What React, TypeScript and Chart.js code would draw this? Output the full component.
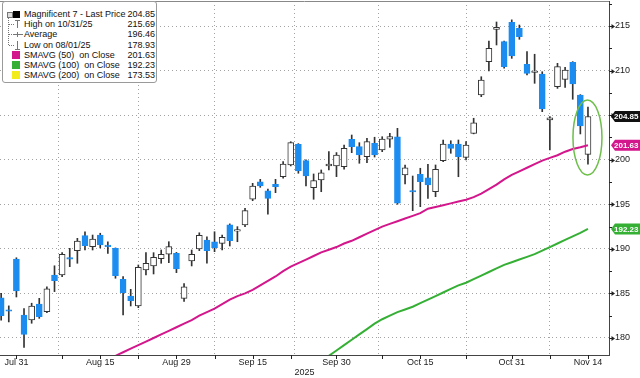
import React, { useEffect, useRef } from 'react';
import { Chart, registerables } from 'chart.js';

Chart.register(...registerables);

// ---------- data ----------
const dates = [
  'Jul 29', 'Jul 30', 'Jul 31', 'Aug 1',
  'Aug 4', 'Aug 5', 'Aug 6', 'Aug 7', 'Aug 8',
  'Aug 11', 'Aug 12', 'Aug 13', 'Aug 14', 'Aug 15',
  'Aug 18', 'Aug 19', 'Aug 20', 'Aug 21', 'Aug 22',
  'Aug 25', 'Aug 26', 'Aug 27', 'Aug 28', 'Aug 29',
  'Sep 2', 'Sep 3', 'Sep 4', 'Sep 5',
  'Sep 8', 'Sep 9', 'Sep 10', 'Sep 11', 'Sep 12',
  'Sep 15', 'Sep 16', 'Sep 17', 'Sep 18', 'Sep 19',
  'Sep 22', 'Sep 23', 'Sep 24', 'Sep 25', 'Sep 26',
  'Sep 29', 'Sep 30', 'Oct 1', 'Oct 2', 'Oct 3',
  'Oct 6', 'Oct 7', 'Oct 8', 'Oct 9', 'Oct 10',
  'Oct 13', 'Oct 14', 'Oct 15', 'Oct 16', 'Oct 17',
  'Oct 20', 'Oct 21', 'Oct 22', 'Oct 23', 'Oct 24',
  'Oct 27', 'Oct 28', 'Oct 29', 'Oct 30', 'Oct 31',
  'Nov 3', 'Nov 4', 'Nov 5', 'Nov 6', 'Nov 7',
  'Nov 10', 'Nov 11', 'Nov 12', 'Nov 13', 'Nov 14',
];

const open = [
  184.5, 183.1, 188.86, 182.58,
  182.02, 183.81, 182.95, 187.07, 187.07,
  189.0, 189.79, 191.48, 190.24, 191.55,
  190.4, 190.06, 186.59, 184.71, 183.59,
  187.63, 188.08, 188.9, 189.39, 189.5,
  184.45, 188.64, 189.98, 190.99,
  190.8, 190.62, 192.68, 191.98, 192.68,
  195.56, 197.53, 196.52, 197.24, 198.09,
  199.41, 201.73, 199.89, 196.86, 197.72,
  199.3, 199.3, 199.22, 202.29, 201.46,
  200.34, 201.84, 201.09, 202.29, 202.58,
  198.29, 196.45, 198.36, 197.98, 196.41,
  199.89, 201.76, 201.76, 200.27, 202.96,
  207.26, 211.0, 214.62, 213.24, 215.42,
  214.74, 210.7, 209.78, 209.62, 204.46,
  208.19, 209.02, 210.93, 207.26, 200.6,
];
const high = [
  185.0, 183.6, 189.0, 183.3,
  183.9, 184.45, 185.75, 188.1, 189.57,
  190.06, 191.18, 191.92, 191.55, 191.75,
  190.8, 190.1, 186.9, 185.46, 188.19,
  189.57, 189.57, 189.87, 190.8, 189.6,
  186.1, 189.87, 191.8, 191.36,
  191.92, 191.55, 192.8, 192.49, 194.55,
  197.35, 197.8, 196.7, 197.8, 199.78,
  202.02, 201.8, 200.0, 198.4, 198.85,
  200.9, 200.8, 201.65, 202.77, 201.91,
  202.4, 202.52, 202.58, 202.96, 203.52,
  199.41, 198.17, 199.04, 199.49, 199.41,
  202.21, 202.13, 202.21, 202.02, 204.65,
  209.31, 213.32, 215.45, 213.3, 215.69,
  215.11, 212.12, 211.83, 209.87, 204.83,
  210.81, 210.37, 211.0, 207.3, 205.9,
];
const low = [
  182.0, 181.8, 184.6, 178.93,
  181.65, 182.2, 182.85, 185.2, 186.88,
  188.0, 188.38, 189.87, 189.87, 190.1,
  189.5, 186.7, 182.6, 183.59, 183.4,
  187.07, 187.18, 188.38, 188.45, 187.33,
  184.1, 188.08, 189.8, 188.38,
  189.68, 189.87, 190.32, 190.8, 192.5,
  195.4, 196.9, 193.9, 196.3, 197.92,
  199.3, 198.48, 197.05, 195.56, 196.41,
  198.85, 198.1, 198.93, 200.79, 199.6,
  199.67, 200.3, 200.9, 201.39, 195.0,
  197.28, 194.28, 194.73, 195.67, 195.85,
  199.78, 200.72, 198.09, 199.97, 202.9,
  207.07, 209.95, 212.87, 210.26, 211.37,
  213.51, 209.5, 208.57, 205.39, 201.09,
  208.0, 208.12, 206.78, 202.89, 199.5,
];
const close = [
  182.5, 183.0, 185.27, 180.4,
  183.59, 182.39, 185.5, 186.43, 189.39,
  188.85, 190.88, 190.35, 191.1, 190.43,
  190.25, 186.99, 185.08, 184.18, 187.93,
  188.38, 189.05, 189.39, 190.24, 187.74,
  185.75, 189.39, 191.52, 189.79,
  190.13, 191.3, 190.92, 192.06, 194.28,
  197.05, 197.05, 195.67, 196.97, 199.52,
  201.91, 198.73, 198.17, 197.65, 198.54,
  199.52, 200.53, 201.28, 201.46, 200.53,
  202.02, 200.53, 202.32, 202.6, 195.11,
  199.1, 196.38, 197.53, 197.16, 198.93,
  201.76, 201.28, 200.34, 201.65, 204.15,
  208.94, 212.5, 214.85, 210.44, 211.64,
  213.8, 209.69, 209.84, 205.69, 204.71,
  210.44, 210.06, 208.49, 203.78, 204.85,
];

const sma50 = [
  171.7, 172.1,
  172.5, 173.0, 173.4, 173.8, 174.3, 174.7, 175.1, 175.5, 176.0, 176.4,
  176.8, 177.2, 177.6, 178.0, 178.4, 178.8, 179.2, 179.6, 180.0, 180.4,
  180.8, 181.2, 181.6, 182.0, 182.5, 182.9, 183.3, 183.8, 184.3, 184.7,
  185.0, 185.4, 185.9, 186.4, 186.9, 187.5, 188.0, 188.4, 188.8, 189.2,
  189.6, 189.9, 190.2, 190.6, 190.9, 191.3, 191.7, 192.1, 192.5, 192.8,
  193.1, 193.4, 193.7, 194.0, 194.5, 194.7, 194.9, 195.1, 195.3, 195.5,
  195.8, 196.2, 196.7, 197.2, 197.8, 198.3, 198.7, 199.1, 199.5, 199.9,
  200.2, 200.5, 200.9, 201.2, 201.4, 201.63,
];
const sma100 = [
  null, null, null, null, null, null, null, null, null, null,
  null, null, null, null, null, null, null, null, null, null,
  null, null, null, null, null, null, null, null, null, null,
  null, null, null, null, null, null, null, null, null, null,
  176.4, 177.0, 177.5, 178.0, 178.6, 179.2, 179.8, 180.4, 181.0, 181.6,
  182.1, 182.5, 182.9, 183.2, 183.5, 183.9, 184.3, 184.7, 185.1, 185.5,
  185.9, 186.2, 186.6, 187.0, 187.4, 187.8, 188.2, 188.5, 188.8, 189.1,
  189.4, 189.8, 190.2, 190.6, 191.0, 191.4, 191.8, 192.23,
];

const yTickValues = [180, 185, 190, 195, 200, 205, 210, 215];
const yMinorValues = [182.5, 187.5, 192.5, 197.5, 202.5, 207.5, 212.5, 217.5];
const xTickDates = ['Jul 31', 'Aug 15', 'Aug 29', 'Sep 15', 'Sep 30', 'Oct 15', 'Oct 31', 'Nov 14'];
const xMinorDates = ['Aug 8', 'Aug 22', 'Sep 8', 'Sep 22', 'Oct 8', 'Oct 23', 'Nov 7'];
const axisYear = '2025';

const legendLabels = [
  'Magnificent 7 - Last Price',
  'High on 10/31/25',
  'Average',
  'Low on 08/01/25',
  'SMAVG (50)  on Close',
  'SMAVG (100)  on Close',
  'SMAVG (200)  on Close',
];
const legendValues = [204.85, 215.69, 196.46, 178.93, 201.63, 192.23, 173.53];

const tagValues = [204.85, 201.63, 192.23];

// ---------- style ----------
const FONT = '"Liberation Sans", Arial, sans-serif';
const BLUE = '#1c8cf0';
const MAGENTA = '#d4168c';
const GREEN = '#35b035';
const YELLOW = '#f2ec1c';
const GRID = '#a3a3a3';
const tagColors = ['#111111', MAGENTA, GREEN];

const X_MIN = -0.152;
const X_MAX = 79.76;
const Y_MIN = 178.09;
const Y_MAX = 217.805;

const decorPlugin = {
  id: 'decor',
  afterDraw(chart: any) {
    const { ctx, chartArea: a, scales } = chart;
    const xs = scales.x;
    const ys = scales.y;
    ctx.save();
    // top frame
    ctx.strokeStyle = '#888';
    ctx.lineWidth = 1;
    ctx.beginPath();
    ctx.moveTo(a.left, a.top + 0.5);
    ctx.lineTo(a.right, a.top + 0.5);
    ctx.stroke();

    // y tick markers
    ctx.strokeStyle = '#222';
    ctx.fillStyle = '#222';
    yTickValues.forEach((v) => {
      const py = Math.round(ys.getPixelForValue(v)) + 0.5;
      ctx.beginPath();
      ctx.moveTo(a.right, py);
      ctx.lineTo(a.right + 3, py);
      ctx.stroke();
      ctx.beginPath();
      ctx.moveTo(a.right + 2.5, py - 2.5);
      ctx.lineTo(a.right + 6, py);
      ctx.lineTo(a.right + 2.5, py + 2.5);
      ctx.closePath();
      ctx.fill();
    });
    yMinorValues.forEach((v) => {
      const py = Math.round(ys.getPixelForValue(v)) + 0.5;
      if (py < a.top + 1) return;
      ctx.beginPath();
      ctx.moveTo(a.right, py);
      ctx.lineTo(a.right + 3, py);
      ctx.stroke();
    });
    // x tick marks
    [...xTickDates, ...xMinorDates].forEach((d) => {
      const px = Math.round(xs.getPixelForValue(dates.indexOf(d))) + 0.5;
      ctx.beginPath();
      ctx.moveTo(px, a.bottom);
      ctx.lineTo(px, a.bottom + 4);
      ctx.stroke();
    });

    // highlight ellipse around last candle
    const last = dates.length - 1;
    const cx = xs.getPixelForValue(last) - 0.5;
    const cy = ys.getPixelForValue(202.5);
    ctx.strokeStyle = '#6dbf4a';
    ctx.lineWidth = 1.5;
    ctx.beginPath();
    ctx.ellipse(cx, cy, 14.5, 37.5, 0, 0, Math.PI * 2);
    ctx.stroke();

    // price tags
    ctx.font = `bold 8px ${FONT}`;
    ctx.textBaseline = 'middle';
    ctx.textAlign = 'left';
    tagValues.forEach((v, i) => {
      const py = ys.getPixelForValue(v);
      const x0 = a.right + 2;
      ctx.fillStyle = tagColors[i];
      ctx.beginPath();
      ctx.moveTo(x0, py);
      ctx.lineTo(x0 + 4, py - 5.5);
      ctx.lineTo(640, py - 5.5);
      ctx.lineTo(640, py + 5.5);
      ctx.lineTo(x0 + 4, py + 5.5);
      ctx.closePath();
      ctx.fill();
      ctx.fillStyle = '#ffffff';
      ctx.fillText(v.toFixed(2), x0 + 3, py + 0.5);
    });
    ctx.restore();
  },
};

function Legend() {
  const rowTop = (i: number) => 7 + i * 10.17;
  const center = (i: number) => rowTop(i) + 5;
  const gray = '#777';
  const squares = ['#000000', null, null, null, MAGENTA, GREEN, YELLOW];
  return (
    <div
      style={{
        position: 'absolute',
        left: 2,
        top: 1,
        width: 155,
        height: 82,
        background: '#fff',
        border: '1px solid #9a9a9a',
        borderRadius: 3,
        boxSizing: 'border-box',
        fontFamily: FONT,
        fontSize: 9,
        color: '#111',
      }}
    >
      <div style={{ position: 'absolute', left: 4, top: center(0) - 2.5, width: 4, height: 4, border: `1px solid ${gray}`, background: '#ddd' }} />
      <div style={{ position: 'absolute', left: 5, top: center(0) + 3, height: center(3) - center(0) - 3, borderLeft: `1px dotted ${gray}` }} />
      {[1, 2, 3].map((i) => (
        <div key={'c' + i} style={{ position: 'absolute', left: 6, top: center(i), width: 5, borderTop: `1px dotted ${gray}` }} />
      ))}
      <div style={{ position: 'absolute', left: 12, top: center(1) - 4, width: 5, height: 0, borderTop: `1px solid ${gray}` }} />
      <div style={{ position: 'absolute', left: 14, top: center(1) - 4, width: 0, height: 8, borderLeft: `1px solid ${gray}` }} />
      <div style={{ position: 'absolute', left: 10, top: center(2), width: 10, height: 0, borderTop: `1px solid ${gray}` }} />
      <div style={{ position: 'absolute', left: 14, top: center(2) - 2, width: 0, height: 5, borderLeft: `1px solid ${gray}` }} />
      <div style={{ position: 'absolute', left: 14, top: center(3) - 4, width: 0, height: 8, borderLeft: `1px solid ${gray}` }} />
      <div style={{ position: 'absolute', left: 12, top: center(3) + 4, width: 5, height: 0, borderTop: `1px solid ${gray}` }} />
      {squares.map((c, i) =>
        c ? (
          <div
            key={'s' + i}
            style={{
              position: 'absolute',
              left: i === 0 ? 10 : 9,
              top: center(i) - (i === 0 ? 3.5 : 4),
              width: i === 0 ? 7 : 8,
              height: i === 0 ? 7 : 8,
              background: c,
            }}
          />
        ) : null
      )}
      {legendLabels.map((t, i) => (
        <div
          key={'t' + i}
          style={{ position: 'absolute', left: 21, top: rowTop(i), lineHeight: '10px', whiteSpace: 'pre' }}
        >
          {t}
        </div>
      ))}
      {legendValues.map((v, i) => (
        <div
          key={'v' + i}
          style={{ position: 'absolute', right: 1, top: rowTop(i), lineHeight: '10px', textAlign: 'right' }}
        >
          {v.toFixed(2)}
        </div>
      ))}
    </div>
  );
}

export default function App() {
  const ref = useRef<HTMLCanvasElement | null>(null);

  useEffect(() => {
    if (!ref.current) return;
    Chart.defaults.font.family = FONT;
    const idx = dates.map((_, i) => i);
    const up = idx.map((i) => close[i] >= open[i]);

    const chart = new Chart(ref.current, {
      type: 'bar',
      data: {
        datasets: [
          {
            type: 'line',
            label: 'SMAVG (50)',
            data: idx.map((i) => ({ x: i, y: sma50[i] })),
            borderColor: MAGENTA,
            borderWidth: 2,
            pointRadius: 0,
            tension: 0,
            order: 0,
          } as any,
          {
            type: 'line',
            label: 'SMAVG (100)',
            data: idx.map((i) => ({ x: i, y: sma100[i] })),
            borderColor: GREEN,
            borderWidth: 2,
            pointRadius: 0,
            tension: 0,
            order: 0,
          } as any,
          {
            type: 'bar',
            label: 'body',
            data: idx.map((i) => ({ x: i, y: [open[i], close[i]] })),
            backgroundColor: up.map((u) => (u ? '#ffffff' : BLUE)),
            borderColor: up.map((u) => (u ? '#333333' : BLUE)),
            borderWidth: 1,
            borderSkipped: false,
            barThickness: 6,
            minBarLength: 1.5,
            grouped: false,
            order: 1,
          } as any,
          {
            type: 'bar',
            label: 'wick',
            data: idx.map((i) => ({ x: i, y: [low[i], high[i]] })),
            backgroundColor: '#333333',
            barThickness: 1,
            grouped: false,
            order: 2,
          } as any,
        ],
      },
      options: {
        responsive: false,
        devicePixelRatio: 1,
        animation: false,
        events: [],
        layout: { padding: { left: 0, top: 1, right: 0, bottom: 0 }, autoPadding: false } as any,
        plugins: {
          legend: { display: false },
          tooltip: { enabled: false },
        },
        scales: {
          x: {
            type: 'linear',
            min: X_MIN,
            max: X_MAX,
            bounds: 'data',
            offset: false,
            afterBuildTicks: (s: any) => {
              s.ticks = xTickDates.map((d) => ({ value: dates.indexOf(d) }));
            },
            afterFit: (s: any) => {
              s.height = 23;
              s.paddingLeft = 0;
              s.paddingRight = 0;
              s.paddingTop = 0;
              s.paddingBottom = 0;
            },
            ticks: {
              callback: (v: any) => dates[v as number],
              autoSkip: false,
              maxRotation: 0,
              padding: 2,
              color: '#222',
              font: { size: 9, family: FONT },
            },
            grid: { color: GRID, lineWidth: 1, drawTicks: false },
            border: { display: true, color: '#444', dash: [1, 3] },
            title: {
              display: true,
              text: axisYear,
              padding: { top: 0, bottom: 0 },
              color: '#222',
              font: { size: 9, family: FONT },
            },
          } as any,
          y: {
            type: 'linear',
            position: 'right',
            min: Y_MIN,
            max: Y_MAX,
            bounds: 'data',
            afterBuildTicks: (s: any) => {
              s.ticks = yTickValues.map((v) => ({ value: v }));
            },
            afterFit: (s: any) => {
              s.width = 31;
              s.paddingTop = 0;
              s.paddingBottom = 0;
              s.paddingLeft = 0;
              s.paddingRight = 0;
            },
            ticks: {
              callback: (v: any) => String(v),
              padding: 6,
              color: '#222',
              font: { size: 9, family: FONT },
            },
            grid: { color: GRID, lineWidth: 1, drawTicks: false },
            border: { display: true, color: '#444', dash: [1, 3] },
          } as any,
        },
      },
      plugins: [decorPlugin],
    } as any);

    return () => chart.destroy();
  }, []);

  return (
    <div
      style={{
        position: 'absolute',
        left: 0,
        top: 0,
        width: 640,
        height: 378,
        background: '#fff',
        overflow: 'hidden',
      }}
    >
      <canvas ref={ref} width={640} height={378} style={{ display: 'block', width: 640, height: 378 }} />
      <Legend />
    </div>
  );
}
